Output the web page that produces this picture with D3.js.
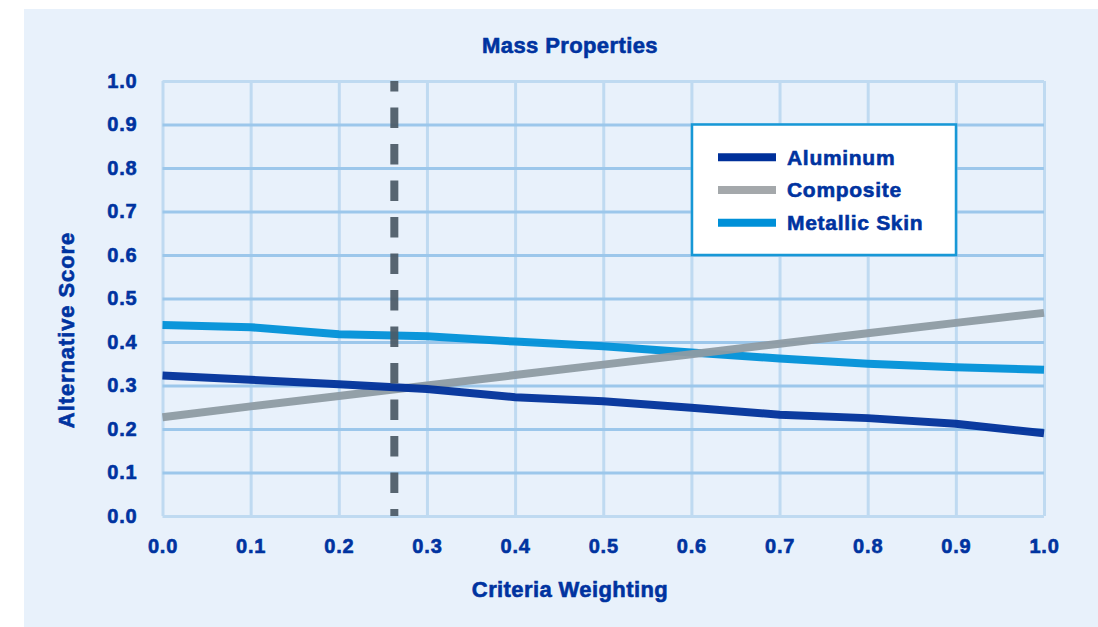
<!DOCTYPE html>
<html>
<head>
<meta charset="utf-8">
<script src="https://cdn.jsdelivr.net/npm/d3@7"></script>
<style>
  body { margin: 0; background: #ffffff; }
  svg { display: block; }
  text { font-family: "Liberation Sans", Arial, sans-serif; font-weight: 700; fill: #0033a0; stroke: #0033a0; stroke-width: 0.6px; }
</style>
</head>
<body>
<svg id="chart" width="1098" height="627"></svg>
<script>
// criteria weighting on the x axis
const weights = [0.0, 0.1, 0.2, 0.3, 0.4, 0.5, 0.6, 0.7, 0.8, 0.9, 1.0]
// alternative scores per material
const aluminum = [0.323, 0.313, 0.303, 0.292, 0.273, 0.264, 0.249, 0.233, 0.225, 0.212, 0.190]
const composite = [0.227, 0.252, 0.276, 0.300, 0.324, 0.348, 0.372, 0.396, 0.420, 0.444, 0.467]
const metallicSkin = [0.439, 0.434, 0.418, 0.413, 0.401, 0.390, 0.376, 0.362, 0.350, 0.342, 0.336]
const seriesNames = ["Aluminum", "Composite", "Metallic Skin"]
// current weighting marker
const currentWeight = [0.263]
const yTicks = [0.0, 0.1, 0.2, 0.3, 0.4, 0.5, 0.6, 0.7, 0.8, 0.9, 1.0]

const lineColors = ["#00309a", "#8e9ba3", "#0090d8"]
const legendColors = ["#00309a", "#a4a8ab", "#0090d8"]

const svg = d3.select('#chart')

// light blue panel
svg.append('rect')
    .attr('x', 24).attr('y', 9)
    .attr('width', 1074).attr('height', 618)
    .attr('fill', '#e8f1fb')

const plotLeft = 162.5, plotRight = 1044, plotTop = 81, plotBottom = 516

const x = d3.scaleLinear().domain([0, 1]).range([plotLeft, plotRight])
const y = d3.scaleLinear().domain([0, 1]).range([plotBottom, plotTop])

// vertical grid lines
svg.append('g')
    .attr('transform', `translate(0,${plotBottom})`)
    .call(d3.axisBottom(x).tickValues(weights).tickSize(-(plotBottom - plotTop)).tickFormat(''))
    .call(g => g.select('.domain').remove())
    .call(g => g.selectAll('line').attr('stroke', '#bfdaf1').attr('stroke-width', 3))

// horizontal grid lines (frame edges lighter)
svg.append('g')
    .attr('transform', `translate(${plotLeft},0)`)
    .call(d3.axisLeft(y).tickValues(yTicks).tickSize(-(plotRight - plotLeft)).tickFormat(''))
    .call(g => g.select('.domain').remove())
    .call(g => g.selectAll('line')
        .attr('stroke', d => (d === 0 || d === 1) ? '#bfdaf1' : '#9cc7eb')
        .attr('stroke-width', 3))

// tick labels
svg.append('g')
    .attr('transform', `translate(${plotLeft},0)`)
    .call(d3.axisLeft(y).tickValues(yTicks).tickSize(0).tickPadding(25).tickFormat(d3.format('.1f')))
    .call(g => g.select('.domain').remove())
    .call(g => g.selectAll('text').attr('font-size', 20).attr('letter-spacing', 0.8).attr('fill', '#0033a0'))

svg.append('g')
    .attr('transform', `translate(0,${plotBottom})`)
    .call(d3.axisBottom(x).tickValues(weights).tickSize(0).tickFormat(d3.format('.1f')))
    .call(g => g.select('.domain').remove())
    .call(g => g.selectAll('text')
        .attr('y', 37).attr('dy', null)
        .attr('font-size', 20).attr('letter-spacing', 0.8).attr('fill', '#0033a0'))

// data lines
const line = d3.line()
    .x((d, i) => x(weights[i]))
    .y(d => y(d))

const allSeries = [aluminum, composite, metallicSkin]
const drawOrder = [2, 1, 0]
drawOrder.forEach(i => {
    svg.append('path')
        .datum(allSeries[i])
        .attr('d', line)
        .attr('fill', 'none')
        .attr('stroke', lineColors[i])
        .attr('stroke-width', 8)
        .attr('stroke-opacity', 0.95)
})

// dashed marker
svg.selectAll('.marker')
    .data(currentWeight)
    .join('line')
    .attr('class', 'marker')
    .attr('x1', d => x(d)).attr('x2', d => x(d))
    .attr('y1', plotTop).attr('y2', plotBottom)
    .attr('stroke', '#4b5a66')
    .attr('stroke-opacity', 0.93)
    .attr('stroke-width', 8)
    .attr('stroke-dasharray', '20.5 16')
    .attr('stroke-dashoffset', 10)

// titles
svg.append('text')
    .attr('x', 570).attr('y', 53)
    .attr('text-anchor', 'middle')
    .attr('font-size', 22).attr('letter-spacing', 0.4)
    .text('Mass Properties')

svg.append('text')
    .attr('x', 570).attr('y', 597)
    .attr('text-anchor', 'middle')
    .attr('font-size', 22).attr('letter-spacing', 0.4)
    .text('Criteria Weighting')

svg.append('text')
    .attr('transform', 'translate(74,330) rotate(-90)')
    .attr('text-anchor', 'middle')
    .attr('font-size', 22).attr('letter-spacing', 0.9)
    .text('Alternative Score')

// legend
const legend = svg.append('g')
legend.append('rect')
    .attr('x', 692).attr('y', 124.5)
    .attr('width', 264).attr('height', 130.5)
    .attr('fill', '#ffffff')
    .attr('stroke', '#1798d6')
    .attr('stroke-width', 2.5)

const legendItems = legend.selectAll('.item')
    .data(seriesNames)
    .join('g')
    .attr('class', 'item')
    .attr('transform', (d, i) => `translate(0,${157.3 + i * 32.7})`)

legendItems.append('line')
    .attr('x1', 718).attr('x2', 776)
    .attr('stroke', (d, i) => legendColors[i])
    .attr('stroke-width', 8)

legendItems.append('text')
    .attr('x', 787).attr('y', 7.3)
    .attr('font-size', 21).attr('letter-spacing', 0.7)
    .text(d => d)
</script>
</body>
</html>
